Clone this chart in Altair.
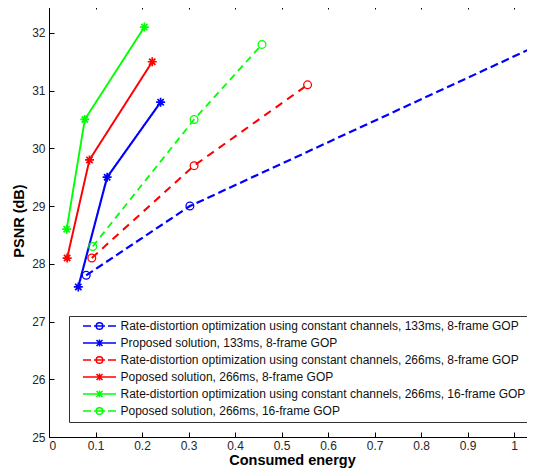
import altair as alt
import pandas as pd

# ---------------- data ----------------
series_names = [
    "Rate-distortion optimization using constant channels, 133ms, 8-frame GOP",
    "Proposed solution, 133ms, 8-frame GOP",
    "Rate-distortion optimization using constant channels, 266ms, 8-frame GOP",
    "Poposed solution, 266ms, 8-frame GOP",
    "Rate-distortion optimization using constant channels, 266ms, 16-frame GOP",
    "Poposed solution, 266ms, 16-frame GOP",
]

s1_x = [0.080, 0.303, 1.19]
s1_y = [27.8, 29.0, 32.3]
s2_x = [0.063, 0.125, 0.240]
s2_y = [27.6, 29.5, 30.8]
s3_x = [0.092, 0.312, 0.556]
s3_y = [28.1, 29.7, 31.1]
s4_x = [0.039, 0.087, 0.222]
s4_y = [28.1, 29.8, 31.5]
s5_x = [0.038, 0.077, 0.205]
s5_y = [28.6, 30.5, 32.1]
s6_x = [0.094, 0.312, 0.458]
s6_y = [28.3, 30.5, 31.8]

x_ticks = [0, 0.1, 0.2, 0.3, 0.4, 0.5, 0.6, 0.7, 0.8, 0.9, 1]
y_ticks = [25, 26, 27, 28, 29, 30, 31, 32]

all_x = [s1_x, s2_x, s3_x, s4_x, s5_x, s6_x]
all_y = [s1_y, s2_y, s3_y, s4_y, s5_y, s6_y]

rows = []
for name, xs, ys in zip(series_names, all_x, all_y):
    for xv, yv in zip(xs, ys):
        rows.append({"series": name, "x": xv, "y": yv})
df = pd.DataFrame(rows)

# ---------------- styles ----------------
colors = ["#0000ff", "#0000ff", "#ff0000", "#ff0000", "#00ff00", "#00ff00"]
dashes = [[8, 4], [1, 0], [8, 6], [1, 0], [1, 0], [7, 5]]
widths = [2.2, 1.8, 1.7, 2.5, 1.3, 1.6]
circle_series = [series_names[0], series_names[2], series_names[5]]
star_series = [series_names[1], series_names[3], series_names[4]]

STAR = "M-1,0H1M0,-1V1M-0.7,-0.7L0.7,0.7M-0.7,0.7L0.7,-0.7"
LEG_DASH = ("M-3.3,0H-1.7M-1.1,0H1.1M1.7,0H3.3"
            "M0.66,0A0.66,0.66,0,1,1,-0.66,0A0.66,0.66,0,1,1,0.66,0")
LEG_SOLID = "M-3.3,0H3.3M-0.6,-0.6L0.6,0.6M-0.6,0.6L0.6,-0.6M0,-0.7V0.7"
leg_shapes = [LEG_DASH, LEG_SOLID, LEG_DASH, LEG_SOLID, LEG_SOLID, LEG_DASH]

W, H = 486, 433
FONT = "Liberation Sans"

xscale = alt.Scale(domain=[0, 1.045], nice=False, zero=False)
yscale = alt.Scale(domain=[25, 32.5], nice=False, zero=False)
cscale = alt.Scale(domain=series_names, range=colors)

base = alt.Chart(df)

main_x_axis = alt.Axis(orient="bottom", values=x_ticks, format="~g", ticks=False,
                       domain=True, domainColor="black", grid=False,
                       labelFont=FONT, labelFontSize=12, labelColor="#262626",
                       labelPadding=3, title="Consumed energy", titleFont=FONT,
                       titleFontSize=14.5, titleFontWeight="bold", titleColor="black",
                       titlePadding=2)
main_y_axis = alt.Axis(orient="left", values=y_ticks, ticks=False, domain=True,
                       domainColor="black", grid=False, labelFont=FONT, labelFontSize=12,
                       labelColor="#262626", labelPadding=4, title="PSNR (dB)",
                       titleFont=FONT, titleFontSize=14.5, titleFontWeight="bold",
                       titleColor="black", titlePadding=5)

lines = base.mark_line(clip=True).encode(
    x=alt.X("x:Q", scale=xscale, axis=main_x_axis),
    y=alt.Y("y:Q", scale=yscale, axis=main_y_axis),
    color=alt.Color("series:N", scale=cscale, legend=None),
    strokeDash=alt.StrokeDash("series:N", scale=alt.Scale(domain=series_names, range=dashes), legend=None),
    strokeWidth=alt.StrokeWidth("series:N", scale=alt.Scale(domain=series_names, range=widths), legend=None),
)

circles = base.transform_filter(
    alt.FieldOneOfPredicate(field="series", oneOf=circle_series)
).mark_point(shape="circle", filled=False, size=60, strokeWidth=1.3, opacity=1, clip=True).encode(
    x=alt.X("x:Q", scale=xscale,
            axis=alt.Axis(orient="top", offset=-H, values=x_ticks, labels=False, domain=False,
                          ticks=True, tickSize=5, tickColor="black", grid=False, title=None)),
    y=alt.Y("y:Q", scale=yscale,
            axis=alt.Axis(orient="right", offset=-W, values=y_ticks, labels=False, domain=False,
                          ticks=True, tickSize=5, tickColor="black", grid=False, title=None)),
    color=alt.Color("series:N", scale=cscale, legend=None),
)

stars = base.transform_filter(
    alt.FieldOneOfPredicate(field="series", oneOf=star_series)
).mark_point(shape=STAR, filled=False, size=81, strokeWidth=1.7, opacity=1, clip=True).encode(
    x=alt.X("x:Q", scale=xscale,
            axis=alt.Axis(orient="bottom", offset=-H, values=x_ticks, labels=False, domain=True,
                          domainColor="black", ticks=True, tickSize=5, tickColor="black",
                          grid=False, title=None)),
    y=alt.Y("y:Q", scale=yscale, axis=None),
    color=alt.Color("series:N", scale=cscale, legend=None),
)

leg = alt.Legend(title=None, orient="none", legendX=20, legendY=312, direction="vertical",
                 fillColor="white", strokeColor="#333333", padding=4, rowPadding=3,
                 labelFont=FONT, labelFontSize=12, labelColor="#111111", labelLimit=1000,
                 symbolSize=100, symbolStrokeWidth=1.5, symbolOffset=20.5, labelOffset=15,
                 symbolFillColor="transparent")

legend_layer = base.transform_filter("false").mark_point(filled=False, opacity=1).encode(
    x=alt.X("x:Q", scale=xscale, axis=None),
    y=alt.Y("y:Q", scale=yscale, axis=None),
    color=alt.Color("series:N", scale=cscale, legend=leg),
    shape=alt.Shape("series:N", scale=alt.Scale(domain=series_names, range=leg_shapes), legend=leg),
)

chart = alt.layer(lines, circles, stars, legend_layer).resolve_axis(
    x="independent", y="independent"
).resolve_legend(
    color="independent", shape="independent"
).properties(
    width=W, height=H,
    autosize=alt.AutoSizeParams(type="none"),
    padding={"top": -4, "left": 41, "right": -8, "bottom": 31},
    background="white",
).configure_view(stroke="transparent")

chart.save("out.html", embed_options={"renderer": "svg", "actions": False})
